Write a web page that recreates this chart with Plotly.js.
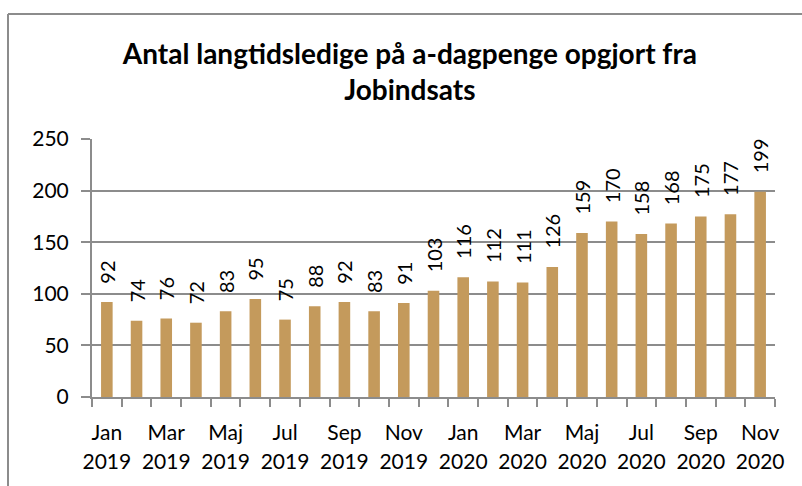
<!DOCTYPE html>
<html>
<head>
<meta charset="utf-8">
<script src="https://cdn.plot.ly/plotly-3.0.1.min.js"></script>
<style>
html,body{margin:0;padding:0;background:#fff;}
#chart{width:802px;height:486px;}
</style>
</head>
<body>
<div id="chart"></div>
<script>
const months = ["Jan","Feb","Mar","Apr","Maj","Jun","Jul","Aug","Sep","Okt","Nov","Dec",
                "Jan","Feb","Mar","Apr","Maj","Jun","Jul","Aug","Sep","Okt","Nov"];
const years = ["2019","2019","2019","2019","2019","2019","2019","2019","2019","2019","2019","2019",
               "2020","2020","2020","2020","2020","2020","2020","2020","2020","2020","2020"];
const values = [92,74,76,72,83,95,75,88,92,83,91,103,116,112,111,126,159,170,158,168,175,177,199];
const yTicks = [0,50,100,150,200,250];

const categories = months.map((m,i) => m + " " + years[i]);
const monthText = months.map((m,i) => (i % 2 === 0) ? m : "");
const yearText = years.map((y,i) => (i % 2 === 0) ? y : "");

const FONT = "Lato, 'Open Sans', sans-serif";
const GRID = "#8c8c8c";
const PAD = "\u00a0\u00a0\u00a0";

const bars = {
  type: "bar",
  x: categories,
  y: values,
  marker: {color: "#C49A5C"},
  text: values.map(v => PAD + v),
  textposition: "outside",
  textangle: -90,
  constraintext: "none",
  textfont: {family: FONT, size: 20, color: "#000"},
  cliponaxis: false,
  hoverinfo: "x+y"
};

// invisible helper trace that carries the year tick row
const yearRow = {
  type: "bar",
  x: categories,
  y: values.map(() => 0),
  xaxis: "x2",
  marker: {color: "rgba(0,0,0,0)"},
  hoverinfo: "skip",
  showlegend: false
};

const L = 92, R = 27, T = 139, B = 89;
const pw = 802 - L - R, ph = 486 - T - B;
const px = v => (v - L) / pw;
const py = v => (486 - B - v) / ph;

const layout = {
  width: 802, height: 486,
  margin: {l: L, r: R, t: T, b: B, pad: 0},
  paper_bgcolor: "#fff",
  plot_bgcolor: "#fff",
  font: {family: FONT, color: "#000"},
  showlegend: false,
  bargap: 0.61,
  barmode: "overlay",
  title: {
    text: "<b>Antal langtidsledige på a-dagpenge opgjort fra<br>Jobindsats</b>",
    font: {family: FONT, size: 28, color: "#000"},
    x: 0.511, xanchor: "center",
    y: 0.869, yanchor: "top"
  },
  xaxis: {
    type: "category",
    categoryarray: categories,
    tickmode: "array",
    tickvals: categories,
    ticktext: monthText,
    tickson: "boundaries",
    ticks: "outside",
    ticklen: 8,
    tickwidth: 2,
    tickcolor: GRID,
    showline: true,
    linecolor: GRID,
    linewidth: 2,
    showgrid: false,
    tickangle: 0,
    ticklabelstandoff: 16,
    tickfont: {family: FONT, size: 21, color: "#000"}
  },
  xaxis2: {
    type: "category",
    categoryarray: categories,
    overlaying: "x",
    anchor: "y",
    side: "bottom",
    tickmode: "array",
    tickvals: categories,
    ticktext: yearText,
    ticks: "",
    showline: false,
    showgrid: false,
    tickangle: 0,
    ticklabelstandoff: 50,
    tickfont: {family: FONT, size: 21, color: "#000"}
  },
  yaxis: {
    range: [0, 250],
    tickmode: "array",
    tickvals: yTicks,
    ticks: "outside",
    ticklen: 9,
    tickwidth: 2,
    tickcolor: GRID,
    showline: true,
    linecolor: GRID,
    linewidth: 2,
    showgrid: true,
    gridcolor: GRID,
    gridwidth: 2,
    zeroline: false,
    tickfont: {family: FONT, size: 21, color: "#000"},
    ticklabelstandoff: 8
  },
  shapes: [
    {type: "line", xref: "paper", yref: "paper",
     x0: px(8), x1: px(830), y0: py(14), y1: py(14),
     line: {color: GRID, width: 2}, layer: "above"},
    {type: "line", xref: "paper", yref: "paper",
     x0: px(8), x1: px(8), y0: py(14), y1: py(520),
     line: {color: GRID, width: 2}, layer: "above"}
  ]
};

Plotly.newPlot("chart", [bars, yearRow], layout, {displayModeBar: false, staticPlot: true});
</script>
</body>
</html>
